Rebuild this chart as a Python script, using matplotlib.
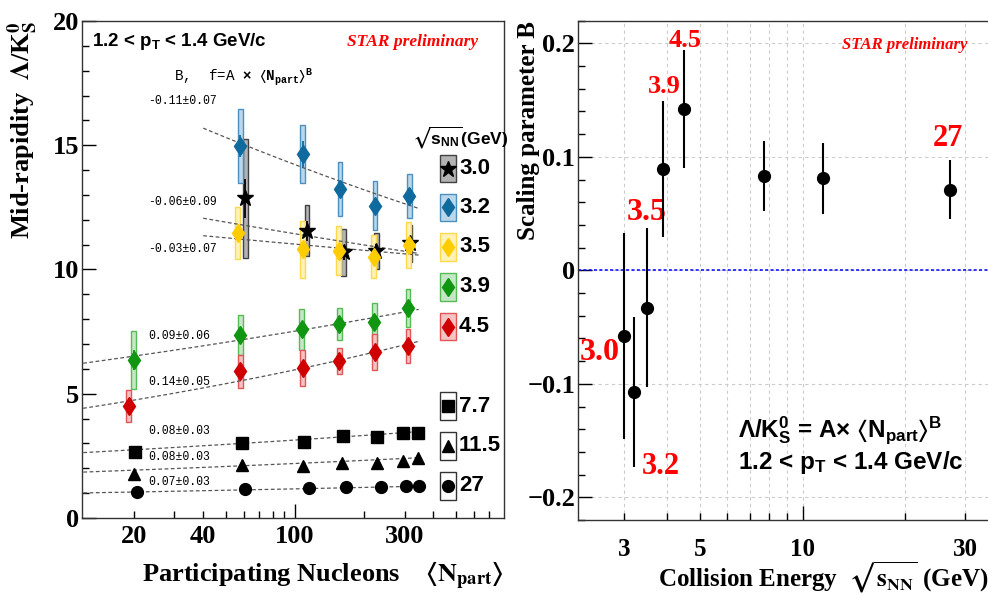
import numpy as np
import matplotlib
matplotlib.use("Agg")
import matplotlib.pyplot as plt
from matplotlib.patches import Rectangle
from matplotlib.ticker import FixedLocator, FuncFormatter, MultipleLocator

plt.rcParams['font.family'] = ['Liberation Serif', 'DejaVu Serif']
plt.rcParams['font.weight'] = 'bold'
plt.rcParams['axes.labelweight'] = 'bold'
plt.rcParams['mathtext.fontset'] = 'custom'
plt.rcParams['mathtext.rm'] = 'Liberation Sans:bold'
plt.rcParams['mathtext.it'] = 'Liberation Sans:bold'
plt.rcParams['mathtext.bf'] = 'Liberation Sans:bold'
plt.rcParams['mathtext.tt'] = 'Liberation Mono'
plt.rcParams['mathtext.fallback'] = 'stixsans'

SANS = ['Liberation Sans', 'DejaVu Sans']
MONO = ['Liberation Mono', 'DejaVu Sans Mono']

# ---- left panel data: Lambda/K0s vs <Npart> ----
# BES-II energies (stat errors + sys boxes)
npart_30 = [61, 113, 163, 226, 316]
ratio_30 = [12.86, 11.56, 10.69, 10.74, 11.05]
stat_30 = [0.79, 0.40, 0.30, 0.30, 0.30]
sys_30 = [2.40, 1.03, 0.95, 0.74, 0.75]

npart_32 = [58, 108, 157, 223, 314]
ratio_32 = [14.97, 14.65, 13.24, 12.57, 12.95]
stat_32 = [0.45, 0.52, 0.34, 0.30, 0.27]
sys_32 = [1.47, 1.15, 1.09, 1.00, 0.89]

npart_35 = [56.5, 108, 155, 220, 312]
ratio_35 = [11.46, 10.81, 10.76, 10.52, 11.00]
stat_35 = [0.25, 0.20, 0.20, 0.20, 0.20]
sys_35 = [1.05, 1.15, 1.00, 0.87, 0.93]

npart_39 = [20, 58, 107, 156, 221, 310]
ratio_39 = [6.36, 7.36, 7.59, 7.81, 7.87, 8.46]
stat_39 = [0.40, 0.20, 0.20, 0.20, 0.20, 0.20]
sys_39 = [1.18, 0.80, 0.82, 0.64, 0.80, 0.77]

npart_45 = [19, 58, 108, 156, 222, 310]
ratio_45 = [4.51, 5.90, 6.04, 6.32, 6.67, 6.93]
stat_45 = [0.30, 0.15, 0.15, 0.15, 0.15, 0.15]
sys_45 = [0.63, 0.65, 0.71, 0.52, 0.72, 0.68]

# BES-I energies
npart_77 = [20.2, 58.7, 110, 162, 228, 295, 343]
ratio_77 = [2.67, 3.03, 3.06, 3.30, 3.27, 3.41, 3.43]
npart_115 = [20, 58.7, 109, 160, 227, 294, 344]
ratio_115 = [1.77, 2.13, 2.10, 2.23, 2.23, 2.31, 2.43]
npart_27 = [20.6, 61, 114.7, 167, 236, 303, 346]
ratio_27 = [1.03, 1.15, 1.21, 1.24, 1.24, 1.29, 1.29]

# ---- right panel data: scaling parameter B vs energy ----
energy = [3.0, 3.2, 3.5, 3.9, 4.5, 7.7, 11.5, 27]
energy_lab = ['3.0', '3.2', '3.5', '3.9', '4.5', '7.7', '11.5', '27']
B_val = [-0.058, -0.107, -0.033, 0.089, 0.142, 0.083, 0.081, 0.071]
B_err = [0.091, 0.066, 0.070, 0.060, 0.052, 0.031, 0.031, 0.026]
# fit normalisation A of f = A * Npart^B
fit_A = [14.94, 23.28, 12.83, 4.99, 3.10, 2.14, 1.51, 0.845]
fit_lo = [40, 40, 40, 10, 10, 10, 10, 10]

fig = plt.figure(figsize=(9.88, 5.96), dpi=100)
axL = fig.add_axes([0.0830, 0.1309, 0.4271, 0.8339])
axR = fig.add_axes([0.5850, 0.1275, 0.4170, 0.8378])

# ---------------- left panel ----------------
bes2 = [
    (npart_30, ratio_30, stat_30, sys_30, '*', 12, 'black', '#b3b3b3', '#404040'),
    (npart_32, ratio_32, stat_32, sys_32, 'd', 9.5, '#0f6a9e', '#bcd6ea', '#4a90c0'),
    (npart_35, ratio_35, stat_35, sys_35, 'd', 9.5, '#ffcc00', '#fff2b8', '#ffd84d'),
    (npart_39, ratio_39, stat_39, sys_39, 'd', 9.5, '#109610', '#c6e7c6', '#55bb55'),
    (npart_45, ratio_45, stat_45, sys_45, 'd', 9.5, '#d00000', '#f4c4c4', '#e05555'),
]
hw = 0.0105  # half box width in decades
for npart, ratio, stat, sys_, mk, ms, col, fc, ec in bes2:
    for n, r, s in zip(npart, ratio, sys_):
        lo, hi = n * 10 ** -hw, n * 10 ** hw
        axL.add_patch(Rectangle((lo, r - s), hi - lo, 2 * s, facecolor=fc,
                                edgecolor=ec, lw=1, zorder=2))
    axL.errorbar(npart, ratio, yerr=stat, fmt='none', ecolor=col, elinewidth=1.3, zorder=4)
    axL.plot(npart, ratio, ls='none', marker=mk, ms=ms, color=col, mec=col, zorder=5)

bes1 = [
    (npart_77, ratio_77, 's', 8),
    (npart_115, ratio_115, '^', 8.5),
    (npart_27, ratio_27, 'o', 8.5),
]
for npart, ratio, mk, ms in bes1:
    axL.plot(npart, ratio, ls='none', marker=mk, ms=ms, color='black', zorder=5)

for A, B, lo in zip(fit_A, B_val, fit_lo):
    nn = np.geomspace(lo, 345, 80)
    axL.plot(nn, A * nn ** B, ls=(0, (3, 2)), color='#555555', lw=0.9, zorder=3)

axL.set_xscale('log')
axL.set_xlim(11.9, 810)
axL.set_ylim(0, 20)
axL.xaxis.set_major_locator(FixedLocator([100]))
axL.xaxis.set_minor_locator(FixedLocator([20, 30, 40, 50, 60, 70, 80, 90, 200, 300, 400, 500, 600, 700]))
axL.xaxis.set_major_formatter(FuncFormatter(lambda v, p: '%g' % v))
axL.xaxis.set_minor_formatter(FuncFormatter(lambda v, p: '%g' % v if round(v) in (20, 40, 300) else ''))
axL.yaxis.set_major_locator(MultipleLocator(5))
axL.yaxis.set_minor_locator(MultipleLocator(1))

# fit B labels
fit_lab_y = [0.636, 0.839, 0.542, 0.367, 0.273, 0.175, 0.123, 0.072]
for B, dB, yy in zip(B_val, B_err, fit_lab_y):
    axL.text(0.1564, yy, '%.2f\u00b1%.2f' % (B, dB), transform=axL.transAxes,
             family=MONO, weight='normal', fontsize=8.3, va='center', ha='left')
axL.text(0.2185, 0.88, r'B,  f=A $\times$ $\langle\mathtt{N}_{\mathtt{part}}\rangle^{\mathtt{B}}$',
         transform=axL.transAxes, family=MONO, weight='normal', fontsize=10.3, va='baseline')

axL.text(0.0237, 0.950, r'1.2 < p$_{\mathrm{T}}$ < 1.4 GeV/c', transform=axL.transAxes,
         family=SANS, fontsize=13.5, va='baseline', ha='left')
axL.text(0.784, 0.950, 'STAR preliminary', transform=axL.transAxes, color='red',
         style='italic', fontsize=12.5, va='baseline', ha='center')

# legend
axL.text(0.8957, 0.7666, r'$\sqrt{\mathrm{s}_{\mathrm{NN}}}$(GeV)', transform=axL.transAxes,
         family=SANS, fontsize=12.5, ha='center', va='center')
leg_y = [0.7028, 0.6251, 0.5453, 0.4648, 0.3849, 0.2253, 0.1449, 0.0644]
leg_style = [(mk, ms, col, fc, ec) for _, _, _, _, mk, ms, col, fc, ec in bes2] + \
            [(mk, ms, 'black', 'white', '#333333') for _, _, mk, ms in bes1]
for lab, yy, (mk, ms, col, fc, ec) in zip(energy_lab, leg_y, leg_style):
    axL.add_patch(Rectangle((0.8495, yy - 0.0277), 0.0367, 0.0553, transform=axL.transAxes,
                            facecolor=fc, edgecolor=ec, lw=1, zorder=6, clip_on=False))
    axL.plot([0.8679], [yy], transform=axL.transAxes, marker=mk, ms=ms, color=col,
             ls='none', zorder=7, clip_on=False)
    axL.text(0.8934, yy, lab, transform=axL.transAxes, family=SANS, fontsize=16,
             va='center', ha='left')

axL.set_xlabel(r'Participating Nucleons    $\langle\mathbf{N}_{\mathbf{part}}\rangle$',
               fontsize=19, fontweight='bold', math_fontfamily='stix', loc='right')
axL.xaxis.set_label_coords(1.0, -0.0845)
axL.set_ylabel(r'Mid-rapidity  $\mathbf{\Lambda}$/K$^{\mathbf{0}}_{\mathbf{S}}$', fontsize=19,
               fontweight='bold', math_fontfamily='stix', loc='top')
axL.yaxis.set_label_coords(-0.0995, 1.0)

# ---------------- right panel ----------------
axR.axhline(0, color='blue', ls=(0, (2, 1.5)), lw=1.1, zorder=2)
axR.errorbar(energy, B_val, yerr=B_err, fmt='o', ms=8.5, color='black', elinewidth=1.5,
             capsize=0, zorder=4)
axR.set_xscale('log')
axR.set_xlim(2.2, 35.4)
axR.set_ylim(-0.22, 0.22)
axR.xaxis.set_major_locator(FixedLocator([10]))
axR.xaxis.set_minor_locator(FixedLocator([3, 4, 5, 6, 7, 8, 9, 20, 30]))
axR.xaxis.set_major_formatter(FuncFormatter(lambda v, p: '%g' % v))
axR.xaxis.set_minor_formatter(FuncFormatter(lambda v, p: '%g' % v if round(v) in (3, 5, 30) else ''))
axR.yaxis.set_major_locator(MultipleLocator(0.1))
axR.yaxis.set_minor_locator(MultipleLocator(0.02))
axR.yaxis.set_major_formatter(FuncFormatter(
    lambda v, p: '0' if abs(v) < 1e-9 else ('%.1f' % v).replace('-', '\u2212')))
axR.grid(True, which='both', axis='x', ls=(0, (3, 3)), color='#cccccc', lw=0.8)
axR.grid(True, which='major', axis='y', ls=(0, (3, 3)), color='#cccccc', lw=0.8)
axR.set_axisbelow(True)

red_lab = ['3.0', '3.2', '3.5', '3.9', '4.5', '27']
red_x = [2.546, 3.84, 3.5, 3.935, 4.54, 26.7]
red_y = [-0.0722, -0.1727, 0.051, 0.162, 0.2026, 0.1163]
red_size = [23, 22, 23, 19, 19, 22]
for t, xx, yy, fs in zip(red_lab, red_x, red_y, red_size):
    axR.text(xx, yy, t, color='red', fontsize=fs, ha='center', va='center')

axR.text(0.794, 0.951, 'STAR preliminary', transform=axR.transAxes, color='red',
         style='italic', fontsize=12, ha='center', va='center')
axR.text(0.388, 0.180, r'$\Lambda$/K$^{0}_{\mathrm{S}}$ = A$\times$ $\langle$N$_{\mathrm{part}}\rangle^{\mathrm{B}}$',
         transform=axR.transAxes, family=SANS, fontsize=17.5, ha='left', va='center')
axR.text(0.388, 0.116, r'1.2 < p$_{\mathrm{T}}$ < 1.4 GeV/c', transform=axR.transAxes,
         family=SANS, fontsize=17.5, ha='left', va='center')

axR.set_xlabel(r'Collision Energy  $\sqrt{\mathbf{s}_{\mathbf{NN}}}$ (GeV)', fontsize=18,
               fontweight='bold', math_fontfamily='stix', loc='right')
axR.xaxis.set_label_coords(0.995, -0.08)
axR.set_ylabel('Scaling parameter B', fontsize=18, fontweight='bold', loc='top')
axR.yaxis.set_label_coords(-0.092, 1.0)

for ax in (axL, axR):
    ax.tick_params(which='both', direction='in', labelsize=19)
    ax.tick_params(which='major', length=10, width=1)
    ax.tick_params(which='minor', length=5, width=1)
    for s in ax.spines.values():
        s.set_linewidth(1)
        s.set_color('#333333')
axL.tick_params(axis='y', pad=2)
axL.tick_params(axis='x', which='both', pad=5)
axR.tick_params(axis='y', pad=2)
axR.tick_params(axis='x', which='both', labelsize=18, pad=13)

fig.savefig('out.png', dpi=100)
